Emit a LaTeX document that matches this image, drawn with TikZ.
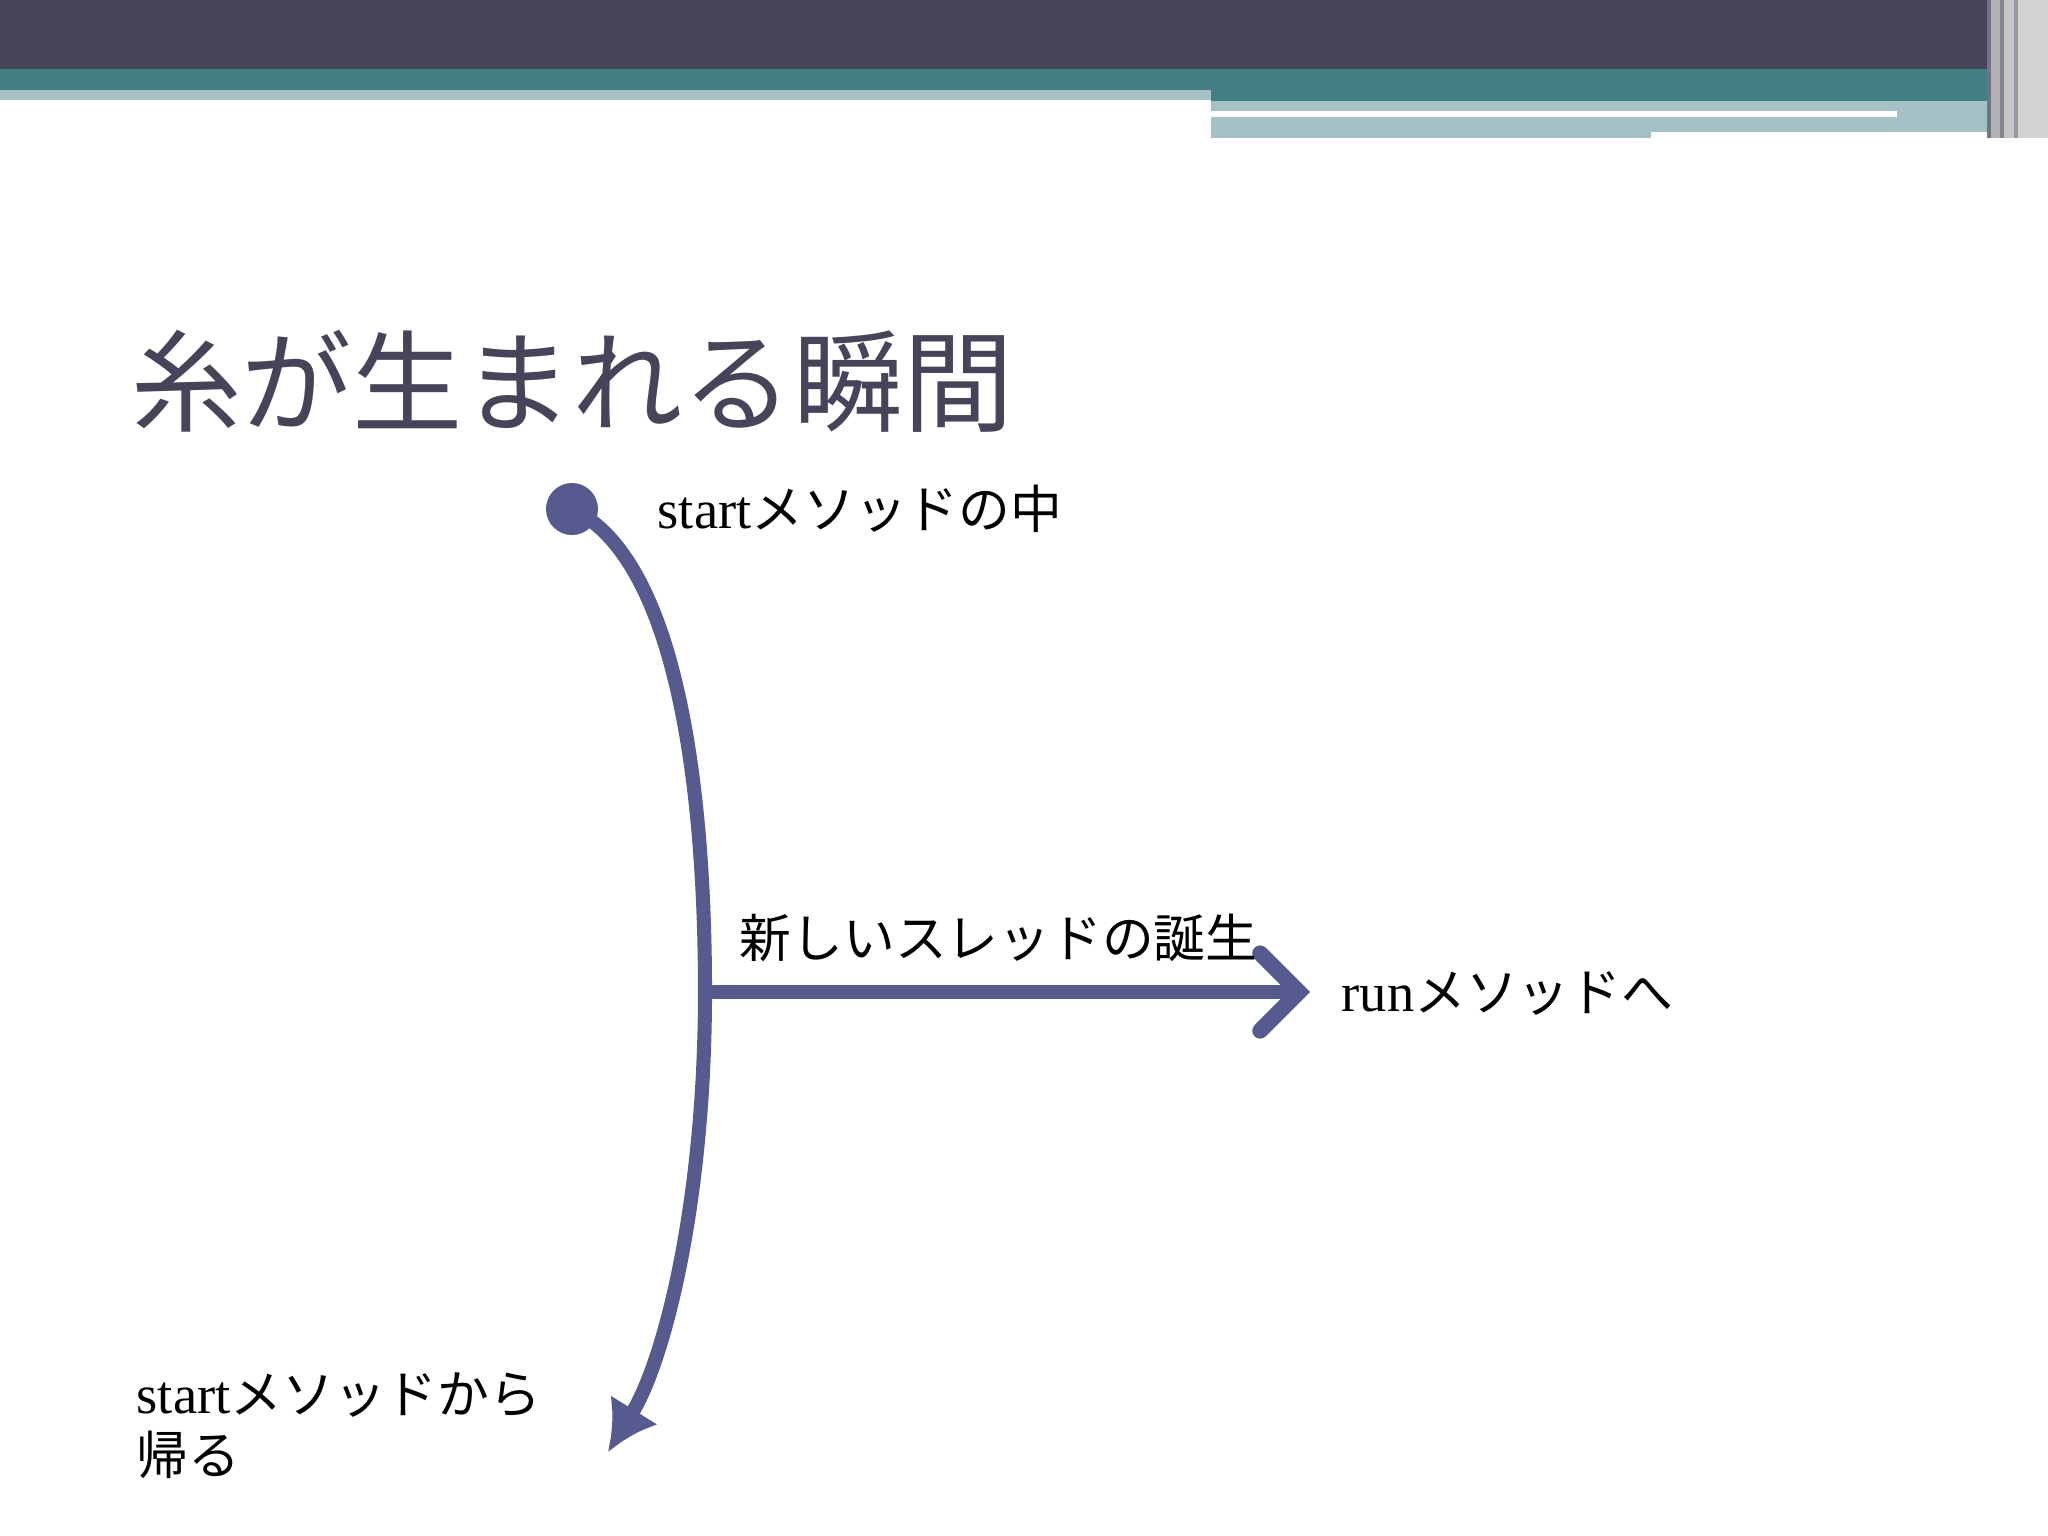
\documentclass[tikz,border=0pt]{standalone}
\usepackage{fontspec}
\setmainfont{Liberation Serif}
\newfontfamily\cjk{Noto Sans CJK JP}[Scale=0.95]
\usetikzlibrary{arrows.meta}
\definecolor{dk}{HTML}{454459}
\definecolor{tl}{HTML}{447F86}
\definecolor{lt}{HTML}{A5C1C6}
\definecolor{ln}{HTML}{575A8E}
\tikzset{lbl/.style={anchor=west,font=\fontsize{15.5}{20}\selectfont,inner sep=0pt}}
\begin{document}
\begin{tikzpicture}[x=0.01cm,y=-0.01cm]
\useasboundingbox (0,0) rectangle (2048,1536);
\fill[white] (0,0) rectangle (2048,1536);
% header
\fill[lt] (0,89) rectangle (1212,100);
\fill[lt] (1211,101) rectangle (2048,138);
\fill[white] (1651,132) rectangle (2010,140);
\fill[white] (1211,111) rectangle (1897,117);
\fill[tl] (0,69) rectangle (1211,90);
\fill[tl] (1211,69) rectangle (2048,101);
\fill[dk] (0,0) rectangle (2048,69);
\fill[dk!75] (1987,0) rectangle (1991,138);
\fill[gray!60] (1991,0) rectangle (2000,138);
\fill[dk!65] (2000,0) rectangle (2004,138);
\fill[gray!45] (2004,0) rectangle (2014,138);
\fill[dk!55] (2014,0) rectangle (2018,138);
\fill[gray!35] (2018,0) rectangle (2048,138);
% title
\node[anchor=west,inner sep=0pt,text=dk,font=\cjk\fontsize{33}{40}\selectfont] (title) at (131,381) {糸が生まれる瞬間};
% diagram
\fill[ln] (572,509) circle (26);
\coordinate (s) at (572,509);
\coordinate (m) at (705,992);
\coordinate (e) at (608,1452);
\coordinate (r) at (1310,992);
\draw[ln,line width=4pt,-{Latex[length=14pt,width=16pt]}] (s) .. controls (680,560) and (705,800) .. (m) .. controls (705,1200) and (665,1360) .. (e);
\draw[ln,line width=4pt,-{Straight Barb[length=11pt,width=22pt,line cap=round,line width=4.5pt]}] (m) -- (r);
\node[lbl] (t1) at (657,509) {start{\cjk メソッドの中}};
\node[lbl] (t2) at (739,938) {\cjk 新しいスレッドの誕生};
\node[lbl] (t3) at (1341,993) {run{\cjk メソッドへ}};
\node[lbl] (t4) at (136,1395) {start{\cjk メソッドから}};
\node[lbl] (t5) at (136,1455) {\cjk 帰る};
\end{tikzpicture}
\end{document}
